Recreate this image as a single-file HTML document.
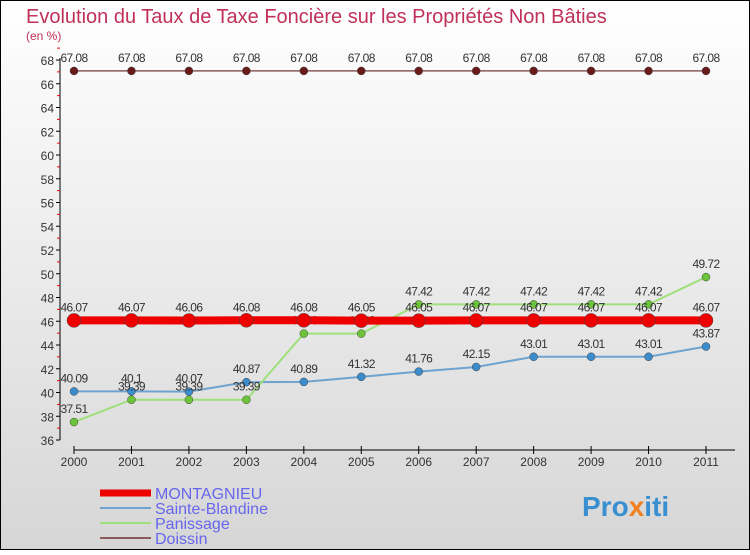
<!DOCTYPE html>
<html><head><meta charset="utf-8"><style>
body{margin:0;width:750px;height:550px;overflow:hidden;font-family:"Liberation Sans",sans-serif}
</style></head><body>
<svg width="750" height="550" xmlns="http://www.w3.org/2000/svg">
<defs><linearGradient id="bg" x1="0" y1="0" x2="0" y2="1"><stop offset="0" stop-color="#ffffff"/><stop offset="1" stop-color="#d6d6d6"/></linearGradient></defs>
<rect x="0.5" y="0.5" width="749" height="549" fill="url(#bg)" stroke="#000"/>
<text x="26" y="23" font-size="20" fill="#c0305a">Evolution du Taux de Taxe Foncière sur les Propriétés Non Bâties</text>
<text x="26" y="40" font-size="12" fill="#c0305a">(en %)</text>
<g id="axes"></g><g id="series"></g><g id="legend"></g>
<text x="582" y="516" font-size="28" font-weight="bold" fill="#3a8fd0">Pro<tspan fill="#f08020">x</tspan>iti</text>
</svg>
<script>
const years=[2000,2001,2002,2003,2004,2005,2006,2007,2008,2009,2010,2011];
const montagnieu=[46.07,46.07,46.06,46.08,46.08,46.05,46.05,46.07,46.07,46.07,46.07,46.07];
const sainteBlandine=[40.09,40.1,40.07,40.87,40.89,41.32,41.76,42.15,43.01,43.01,43.01,43.87];
const panissage=[37.51,39.39,39.39,39.39,44.96,44.96,47.42,47.42,47.42,47.42,47.42,49.72];
const doissin=[67.08,67.08,67.08,67.08,67.08,67.08,67.08,67.08,67.08,67.08,67.08,67.08];
const yTicks=[36,38,40,42,44,46,48,50,52,54,56,58,60,62,64,66,68];
const NS="http://www.w3.org/2000/svg";
const X=i=>74+i*(706-74)/11;
const Y=v=>440-(v-36)*(380/32);
function mk(tag,attrs,parent,txt){const e=document.createElementNS(NS,tag);for(const k in attrs)e.setAttribute(k,attrs[k]);if(txt!==undefined)e.textContent=txt;parent.appendChild(e);return e;}
const ax=document.getElementById('axes');
let yl=mk('line',{x1:60,y1:58,x2:60,y2:440,stroke:'#000'},ax);


yTicks.forEach(t=>{mk('line',{x1:56,y1:Y(t),x2:60,y2:Y(t),stroke:'#000'},ax);
mk('line',{x1:57,y1:Y(t+1),x2:60,y2:Y(t+1),stroke:'#e00'},ax);
const l=mk('text',{x:54,y:Y(t)+5,'font-size':12,'text-anchor':'end',fill:'#333'},ax,t);

});
let xl=mk('line',{x1:74,y1:450,x2:735,y2:450,stroke:'#000'},ax);


years.forEach((y,i)=>{mk('line',{x1:X(i),y1:446,x2:X(i),y2:454,stroke:'#000'},ax);
const l=mk('text',{x:X(i),y:466,'font-size':12,'text-anchor':'middle',fill:'#333'},ax,y);

});
const sg=document.getElementById('series');
const series=[
{n:'doissin',d:doissin,c:'#8b5a5a',pc:'#6b1a1a',w:1.5,r:4},
{n:'sainte-blandine',d:sainteBlandine,c:'#6fa3cf',pc:'#3a8ccc',w:2,r:4},
{n:'panissage',d:panissage,c:'#9ee07a',pc:'#6cc43a',w:2,r:4},
{n:'montagnieu',d:montagnieu,c:'#ee0000',pc:'#ee0000',w:8,r:7}];
series.forEach(s=>{
const p=mk('polyline',{points:s.d.map((v,i)=>X(i)+','+Y(v)).join(' '),fill:'none',stroke:s.c,'stroke-width':s.w},sg);


s.d.forEach((v,i)=>{const c=mk('circle',{cx:X(i),cy:Y(v),r:s.r,fill:s.pc,stroke:'#444','stroke-width':0.5},sg);


const t=mk('text',{x:X(i),y:Y(v)-9,'font-size':12,'text-anchor':'middle',fill:'#333','letter-spacing':'-0.6'},sg,v);

});});
const lg=document.getElementById('legend');
const le=[['MONTAGNIEU','#ee0000',7],['Sainte-Blandine','#6fa3cf',2],['Panissage','#9ee07a',2],['Doissin','#8b5a5a',2]];
le.forEach((e,i)=>{const y=493+i*15;
const r=mk('line',{x1:100,y1:y,x2:151,y2:y,stroke:e[1],'stroke-width':e[2]},lg);


const t=mk('text',{x:155,y:y+6,'font-size':16,fill:'#6666ee'},lg,e[0]);

});
</script>
</body></html>
